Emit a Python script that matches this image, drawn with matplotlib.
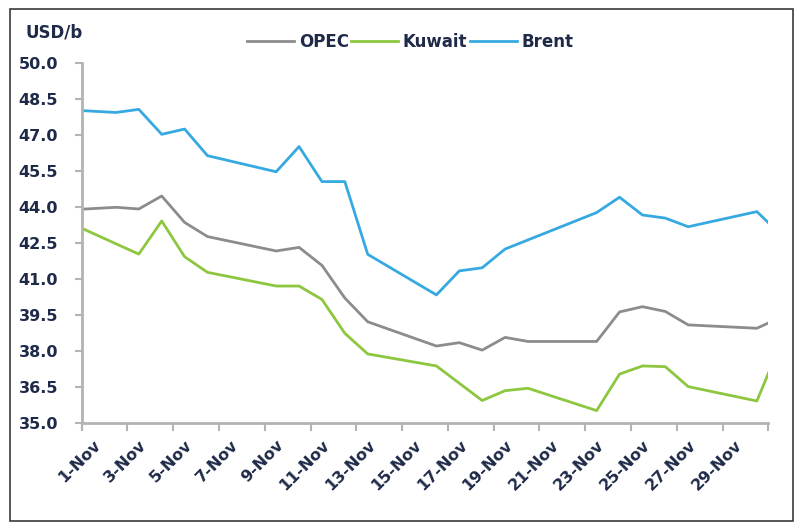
import matplotlib
matplotlib.use("Agg")
import matplotlib.pyplot as plt
import matplotlib.dates as mdates
from matplotlib.patches import Rectangle
import pandas as pd

# trading days (Oct 30 and Dec 1 sit outside the axis and get clipped)
dates = pd.to_datetime([
    "2015-10-30", "2015-11-02", "2015-11-03", "2015-11-04", "2015-11-05", "2015-11-06",
    "2015-11-09", "2015-11-10", "2015-11-11", "2015-11-12", "2015-11-13",
    "2015-11-16", "2015-11-17", "2015-11-18", "2015-11-19", "2015-11-20",
    "2015-11-23", "2015-11-24", "2015-11-25", "2015-11-26", "2015-11-27",
    "2015-11-30", "2015-12-01",
])
opec = [43.84, 44.00, 43.93, 44.47, 43.37, 42.78, 42.18, 42.33, 41.58, 40.22, 39.23,
        38.22, 38.36, 38.05, 38.58, 38.41, 38.41, 39.64, 39.86, 39.66, 39.10, 38.96, 39.40]
kuwait = [43.78, 42.48, 42.05, 43.43, 41.94, 41.29, 40.72, 40.72, 40.16, 38.75, 37.89,
          37.39, 36.67, 35.95, 36.36, 36.46, 35.53, 37.05, 37.39, 37.36, 36.53, 35.93, 38.23]
brent = [48.11, 47.95, 48.08, 47.04, 47.26, 46.15, 45.48, 46.53, 45.07, 45.07, 42.04,
         40.35, 41.35, 41.48, 42.26, 42.64, 43.78, 44.42, 43.68, 43.55, 43.19, 43.82, 42.90]

yticks = [35.0, 36.5, 38.0, 39.5, 41.0, 42.5, 44.0, 45.5, 47.0, 48.5, 50.0]
label_days = pd.date_range("2015-11-01", "2015-11-29", freq="2D")

txt_color = "#1e2a48"
spine_color = "#b3b3b3"

fig = plt.figure(figsize=(8.0, 5.23), dpi=100)
ax = fig.add_axes([0.102, 0.1906, 0.8584, 0.6884])

x = mdates.date2num(dates)
ax.plot(x, opec, color="#8c8c8c", lw=2.0, label="OPEC")
ax.plot(x, kuwait, color="#8dc63f", lw=2.0, label="Kuwait")
ax.plot(x, brent, color="#36a9e1", lw=2.0, label="Brent")

start = mdates.date2num(pd.Timestamp("2015-10-31 12:00"))
ax.set_xlim(start, start + 30)
ax.set_ylim(35, 50)

# tick marks between categories, labels at day centres
ax.set_xticks([start + 2 * k for k in range(16)])
ax.set_xticklabels([])
ax.set_xticks(mdates.date2num(label_days), minor=True)
ax.set_xticklabels([f"{d.day}-Nov" for d in label_days], minor=True,
                   rotation=45, ha="right", va="top", rotation_mode="anchor")
ax.tick_params(axis="x", which="minor", length=0, pad=10)
ax.tick_params(axis="x", which="major", length=6, width=1.5, color=spine_color)

ax.set_yticks(yticks)
ax.set_yticklabels([f"{v:.1f}" for v in yticks])
ax.tick_params(axis="y", length=5, width=1.5, color=spine_color, pad=12)

for lab in ax.get_xticklabels(minor=True) + ax.get_yticklabels():
    lab.set_fontweight("bold")
    lab.set_fontsize(11.5)
    lab.set_color(txt_color)

for side in ["top", "right"]:
    ax.spines[side].set_visible(False)
for side in ["left", "bottom"]:
    ax.spines[side].set_color(spine_color)
    ax.spines[side].set_linewidth(2)

leg = fig.legend(loc="center", bbox_to_anchor=(0.513, 0.92), ncol=3, frameon=False,
                 handlelength=2.8, handletextpad=0.3, columnspacing=0.15,
                 prop={"weight": "bold", "size": 12})
for t in leg.get_texts():
    t.set_color(txt_color)

fig.text(0.032, 0.937, "USD/b", fontsize=12, fontweight="bold", color=txt_color,
         ha="left", va="center")

fig.add_artist(Rectangle((0.0125, 0.004), 0.979, 0.978, transform=fig.transFigure,
                         fill=False, ec="#3a3a3a", lw=1.2))

fig.savefig("out.png", dpi=100)
